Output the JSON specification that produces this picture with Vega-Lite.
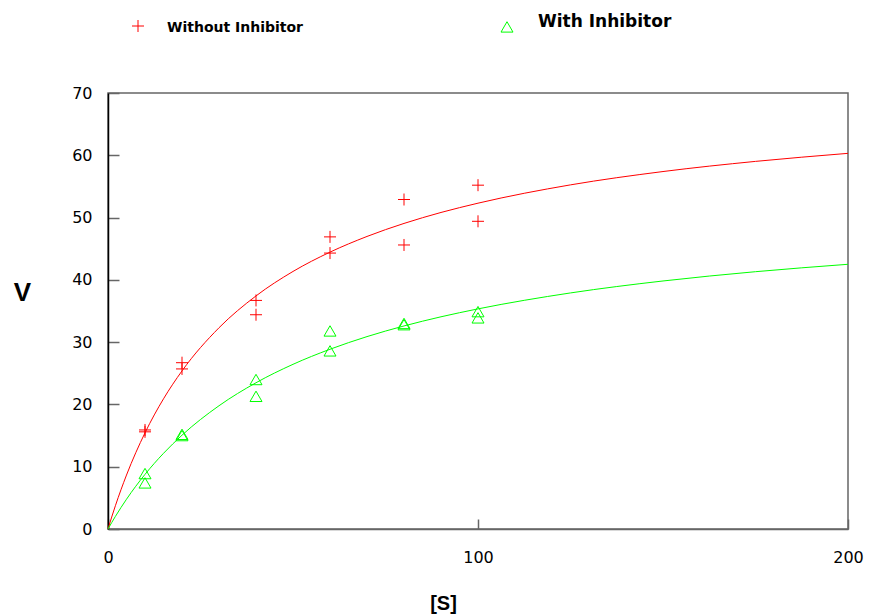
{
  "$schema": "https://vega.github.io/schema/vega-lite/v6.json",
  "autosize": {"type": "none"},
  "padding": {"left": 108, "top": 93, "right": 21, "bottom": 87},
  "width": 740,
  "height": 436,
  "background": "white",
  "config": {
    "view": {"stroke": "#666666", "strokeWidth": 1.5},
    "axis": {"grid": false, "labelFont": "DejaVu Sans", "labelFontSize": 16, "labelColor": "#000000", "titleFont": "Liberation Sans", "titleFontWeight": "bold", "titleColor": "#000000", "domainColor": "#666666", "tickColor": "#666666", "tickWidth": 1.5, "domainWidth": 1.5}
  },
  "datasets": {
    "points": [
      {"S": 10, "V": 15.6, "series": "Without Inhibitor"},
      {"S": 10, "V": 15.9, "series": "Without Inhibitor"},
      {"S": 20, "V": 26.7, "series": "Without Inhibitor"},
      {"S": 20, "V": 25.7, "series": "Without Inhibitor"},
      {"S": 40, "V": 36.7, "series": "Without Inhibitor"},
      {"S": 40, "V": 34.4, "series": "Without Inhibitor"},
      {"S": 60, "V": 46.9, "series": "Without Inhibitor"},
      {"S": 60, "V": 44.3, "series": "Without Inhibitor"},
      {"S": 80, "V": 52.9, "series": "Without Inhibitor"},
      {"S": 80, "V": 45.6, "series": "Without Inhibitor"},
      {"S": 100, "V": 55.2, "series": "Without Inhibitor"},
      {"S": 100, "V": 49.4, "series": "Without Inhibitor"},
      {"S": 10, "V": 8.9, "series": "With Inhibitor"},
      {"S": 10, "V": 7.4, "series": "With Inhibitor"},
      {"S": 20, "V": 15.0, "series": "With Inhibitor"},
      {"S": 20, "V": 15.2, "series": "With Inhibitor"},
      {"S": 40, "V": 24.0, "series": "With Inhibitor"},
      {"S": 40, "V": 21.3, "series": "With Inhibitor"},
      {"S": 60, "V": 31.8, "series": "With Inhibitor"},
      {"S": 60, "V": 28.6, "series": "With Inhibitor"},
      {"S": 80, "V": 33.0, "series": "With Inhibitor"},
      {"S": 80, "V": 32.8, "series": "With Inhibitor"},
      {"S": 100, "V": 34.9, "series": "With Inhibitor"},
      {"S": 100, "V": 33.9, "series": "With Inhibitor"}
    ],
    "curves": [
      {"S": 0, "V": 0, "series": "Without Inhibitor"},
      {"S": 1, "V": 1.92, "series": "Without Inhibitor"},
      {"S": 2, "V": 3.74, "series": "Without Inhibitor"},
      {"S": 5, "V": 8.66, "series": "Without Inhibitor"},
      {"S": 10, "V": 15.44, "series": "Without Inhibitor"},
      {"S": 15, "V": 20.90, "series": "Without Inhibitor"},
      {"S": 20, "V": 25.38, "series": "Without Inhibitor"},
      {"S": 30, "V": 32.31, "series": "Without Inhibitor"},
      {"S": 40, "V": 37.42, "series": "Without Inhibitor"},
      {"S": 50, "V": 41.35, "series": "Without Inhibitor"},
      {"S": 60, "V": 44.45, "series": "Without Inhibitor"},
      {"S": 70, "V": 46.97, "series": "Without Inhibitor"},
      {"S": 80, "V": 49.06, "series": "Without Inhibitor"},
      {"S": 90, "V": 50.82, "series": "Without Inhibitor"},
      {"S": 100, "V": 52.31, "series": "Without Inhibitor"},
      {"S": 125, "V": 55.25, "series": "Without Inhibitor"},
      {"S": 150, "V": 57.39, "series": "Without Inhibitor"},
      {"S": 175, "V": 59.02, "series": "Without Inhibitor"},
      {"S": 200, "V": 60.31, "series": "Without Inhibitor"},
      {"S": 0, "V": 0, "series": "With Inhibitor"},
      {"S": 1, "V": 1.03, "series": "With Inhibitor"},
      {"S": 2, "V": 2.02, "series": "With Inhibitor"},
      {"S": 5, "V": 4.78, "series": "With Inhibitor"},
      {"S": 10, "V": 8.77, "series": "With Inhibitor"},
      {"S": 15, "V": 12.15, "series": "With Inhibitor"},
      {"S": 20, "V": 15.06, "series": "With Inhibitor"},
      {"S": 30, "V": 19.79, "series": "With Inhibitor"},
      {"S": 40, "V": 23.48, "series": "With Inhibitor"},
      {"S": 50, "V": 26.44, "series": "With Inhibitor"},
      {"S": 60, "V": 28.86, "series": "With Inhibitor"},
      {"S": 70, "V": 30.89, "series": "With Inhibitor"},
      {"S": 80, "V": 32.60, "series": "With Inhibitor"},
      {"S": 90, "V": 34.07, "series": "With Inhibitor"},
      {"S": 100, "V": 35.34, "series": "With Inhibitor"},
      {"S": 125, "V": 37.90, "series": "With Inhibitor"},
      {"S": 150, "V": 39.82, "series": "With Inhibitor"},
      {"S": 175, "V": 41.31, "series": "With Inhibitor"},
      {"S": 200, "V": 42.50, "series": "With Inhibitor"}
    ]
  },
  "encoding": {
    "x": {
      "field": "S", "type": "quantitative",
      "scale": {"domain": [0, 200], "nice": false, "zero": true},
      "axis": {"title": "[S]", "values": [0, 100, 200], "format": "d", "tickSize": -10, "labelPadding": 30, "labelFlush": false, "titleFontSize": 20, "titleX": 335, "titleY": 74, "titleBaseline": "middle", "titleAnchor": null}
    },
    "y": {
      "field": "V", "type": "quantitative",
      "scale": {"domain": [0, 70], "nice": false},
      "axis": {"title": "V", "values": [0, 10, 20, 30, 40, 50, 60, 70], "format": "d", "tickSize": -11, "labelPadding": 27, "labelFlush": false, "domainColor": "#000000", "titleFontSize": 26, "titleAngle": 0, "titleX": -86, "titleY": 199, "titleAlign": "center", "titleBaseline": "middle"}
    }
  },
  "layer": [
    {
      "data": {"name": "curves"},
      "transform": [{"filter": "datum.series === 'Without Inhibitor'"}],
      "mark": {"type": "line", "color": "#ff0000", "strokeWidth": 1, "interpolate": "monotone"}
    },
    {
      "data": {"name": "curves"},
      "transform": [{"filter": "datum.series === 'With Inhibitor'"}],
      "mark": {"type": "line", "color": "#00ff00", "strokeWidth": 1, "interpolate": "monotone"}
    },
    {
      "data": {"name": "points"},
      "mark": {"type": "point", "filled": false, "strokeWidth": 1, "size": 144, "opacity": 1},
      "encoding": {
        "color": {
          "field": "series", "type": "nominal",
          "scale": {"domain": ["Without Inhibitor", "With Inhibitor"], "range": ["#ff0000", "#00ff00"]},
          "legend": {
            "title": null, "orient": "none", "direction": "horizontal",
            "legendX": 23, "legendY": -74,
            "symbolSize": 144, "symbolStrokeWidth": 1,
            "labelFont": "DejaVu Sans", "labelFontWeight": "bold", "labelFontSize": 14, "labelColor": "#000000",
            "labelOffset": 22, "columnPadding": 195, "labelLimit": 300,
            "encoding": {"labels": {
              "fontSize": {"value": {"expr": "datum.value === 'With Inhibitor' ? 17 : 14"}},
              "dy": {"value": {"expr": "datum.value === 'With Inhibitor' ? -5 : 2"}},
              "dx": {"value": {"expr": "datum.value === 'With Inhibitor' ? 2 : 0"}}
            }}
          }
        },
        "shape": {
          "field": "series", "type": "nominal",
          "scale": {"domain": ["Without Inhibitor", "With Inhibitor"], "range": ["M-1,0H1M0,-1V1", "triangle-up"]},
          "legend": {
            "title": null, "orient": "none", "direction": "horizontal",
            "legendX": 23, "legendY": -74,
            "symbolSize": 144, "symbolStrokeWidth": 1,
            "labelFont": "DejaVu Sans", "labelFontWeight": "bold", "labelFontSize": 14, "labelColor": "#000000",
            "labelOffset": 22, "columnPadding": 195, "labelLimit": 300,
            "encoding": {"labels": {
              "fontSize": {"value": {"expr": "datum.value === 'With Inhibitor' ? 17 : 14"}},
              "dy": {"value": {"expr": "datum.value === 'With Inhibitor' ? -5 : 2"}},
              "dx": {"value": {"expr": "datum.value === 'With Inhibitor' ? 2 : 0"}}
            }}
          }
        }
      }
    }
  ]
}
